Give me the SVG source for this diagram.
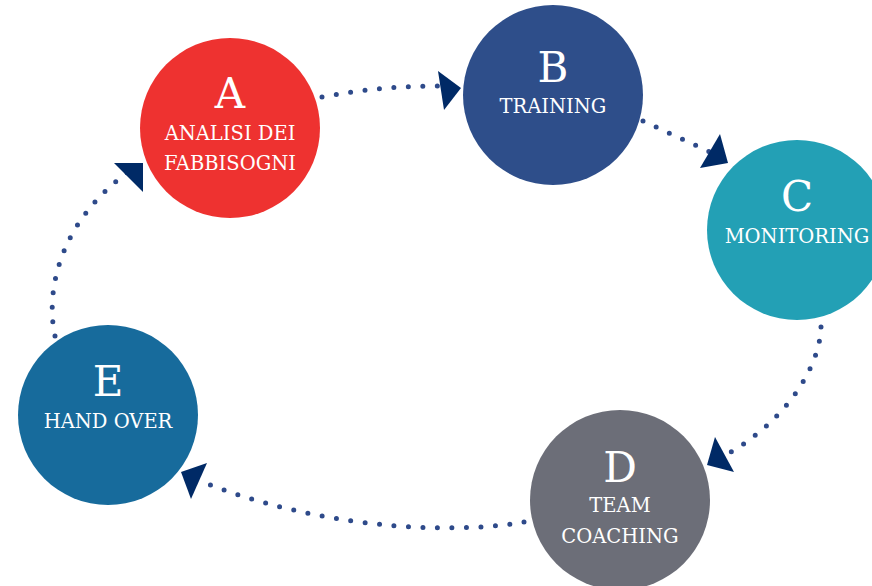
<svg xmlns="http://www.w3.org/2000/svg" width="872" height="586" viewBox="0 0 872 586">
<style>
.big{font-family:"DejaVu Serif","Liberation Serif",serif;font-size:42px;fill:#fff;text-anchor:middle}
.lbl{font-family:"DejaVu Serif","Liberation Serif",serif;font-size:19.5px;fill:#fff;text-anchor:middle}
.dots{fill:none;stroke:#2E4A8A;stroke-width:5;stroke-linecap:round;stroke-dasharray:0 14.5}
.head{fill:#002A66}
</style>
<rect width="872" height="586" fill="#fff"/>
<g id="connectors">
<path class="dots" d="M322,97 Q380,86 438,86"/>
<polygon class="head" points="438,71 461,88 444,110"/>
<path class="dots" d="M643,121 L710,152"/>
<polygon class="head" points="720,134 728,163 700,168"/>
<path class="dots" d="M821,327 C820,370 780,430 712,462"/>
<polygon class="head" points="715,437 707,465 734,472"/>
<path class="dots" d="M524,522 C470,532 340,535 205,483"/>
<polygon class="head" points="207,463 181,472 191,499"/>
<path class="dots" d="M55,336 C45,290 60,220 131,170"/>
<polygon class="head" points="114,163 143,163 143,192"/>
</g>
<g id="nodeA">
<circle cx="230" cy="128" r="90" fill="#EE3230"/>
<text class="big" x="230" y="108">A</text>
<text class="lbl" x="230" y="140">ANALISI DEI</text>
<text class="lbl" x="230" y="170">FABBISOGNI</text>
</g>
<g id="nodeB">
<circle cx="553" cy="95" r="90" fill="#2E4E8A"/>
<text class="big" x="553" y="82">B</text>
<text class="lbl" x="553" y="113">TRAINING</text>
</g>
<g id="nodeC">
<circle cx="797" cy="230" r="90" fill="#23A0B5"/>
<text class="big" x="797" y="211">C</text>
<text class="lbl" x="797" y="243">MONITORING</text>
</g>
<g id="nodeD">
<circle cx="620" cy="500" r="90" fill="#6C6E78"/>
<text class="big" x="620" y="482">D</text>
<text class="lbl" x="620" y="512">TEAM</text>
<text class="lbl" x="620" y="543">COACHING</text>
</g>
<g id="nodeE">
<circle cx="108" cy="415" r="90" fill="#176B9C"/>
<text class="big" x="108" y="396">E</text>
<text class="lbl" x="108" y="428">HAND OVER</text>
</g>
</svg>
